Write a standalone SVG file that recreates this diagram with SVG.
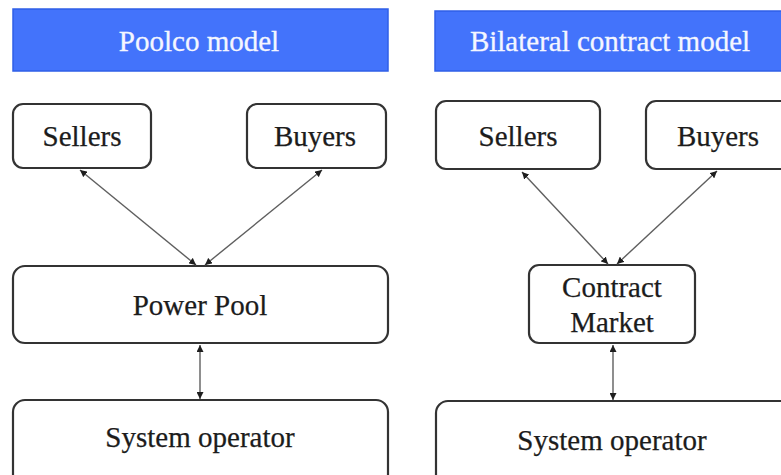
<svg xmlns="http://www.w3.org/2000/svg" width="781" height="475" viewBox="0 0 781 475">
  <style>
    .hdr { fill: #4373fb; stroke: #2f5fe8; stroke-width: 1.5; }
    .hdr-text { font-family: "Liberation Serif", "Times New Roman", serif; font-size: 29px; fill: #f4f6ff; stroke: #f4f6ff; stroke-width: 0.3; text-anchor: middle; }
    .box { fill: #ffffff; stroke: #333333; stroke-width: 2.2; }
    .label { font-family: "Liberation Serif", "Times New Roman", serif; font-size: 29px; fill: #1c1c1c; stroke: #1c1c1c; stroke-width: 0.25; text-anchor: middle; }
    .edge { stroke: #5f5f5f; stroke-width: 1.4; fill: none; marker-start: url(#arrow); marker-end: url(#arrow); }
  </style>
  <defs>
    <marker id="arrow" viewBox="0 0 10 10" refX="10" refY="5" markerWidth="7" markerHeight="7" markerUnits="userSpaceOnUse" orient="auto-start-reverse">
      <path d="M0,0 L10,5 L0,10 z" fill="#1e1e1e"/>
    </marker>
  </defs>

  <rect width="781" height="475" fill="#ffffff"/>

  <!-- Poolco model -->
  <g id="poolco-header">
    <rect class="hdr" x="13" y="9" width="375" height="62"/>
    <text class="hdr-text" x="199" y="51">Poolco model</text>
  </g>
  <g id="poolco-sellers">
    <rect class="box" x="13" y="104" width="138" height="64" rx="10"/>
    <text class="label" x="82" y="146">Sellers</text>
  </g>
  <g id="poolco-buyers">
    <rect class="box" x="247" y="104" width="139" height="64" rx="10"/>
    <text class="label" x="315" y="146">Buyers</text>
  </g>
  <g id="power-pool">
    <rect class="box" x="13" y="266" width="375" height="77" rx="12"/>
    <text class="label" x="200" y="315">Power Pool</text>
  </g>
  <g id="poolco-operator">
    <rect class="box" x="13" y="400" width="375" height="90" rx="12"/>
    <text class="label" x="200" y="447">System operator</text>
  </g>

  <!-- Bilateral contract model -->
  <g id="bilateral-header">
    <rect class="hdr" x="435" y="11" width="360" height="60"/>
    <text class="hdr-text" x="610" y="51">Bilateral contract model</text>
  </g>
  <g id="bilateral-sellers">
    <rect class="box" x="436" y="101" width="164" height="68" rx="10"/>
    <text class="label" x="518" y="146">Sellers</text>
  </g>
  <g id="bilateral-buyers">
    <rect class="box" x="646" y="101" width="150" height="68" rx="10"/>
    <text class="label" x="718" y="146">Buyers</text>
  </g>
  <g id="contract-market">
    <rect class="box" x="529" y="265" width="166" height="78" rx="10"/>
    <text class="label" x="612" y="297">Contract</text>
    <text class="label" x="612" y="332">Market</text>
  </g>
  <g id="bilateral-operator">
    <rect class="box" x="436" y="401" width="360" height="90" rx="12"/>
    <text class="label" x="612" y="450">System operator</text>
  </g>

  <!-- Connectors -->
  <g id="connectors">
    <line class="edge" x1="80" y1="170" x2="196" y2="265"/>
    <line class="edge" x1="322" y1="170" x2="205" y2="265"/>
    <line class="edge" x1="200" y1="345" x2="200" y2="399"/>
    <line class="edge" x1="522" y1="172" x2="608" y2="264"/>
    <line class="edge" x1="717" y1="171" x2="617" y2="264"/>
    <line class="edge" x1="613" y1="345" x2="613" y2="400"/>
  </g>
</svg>
